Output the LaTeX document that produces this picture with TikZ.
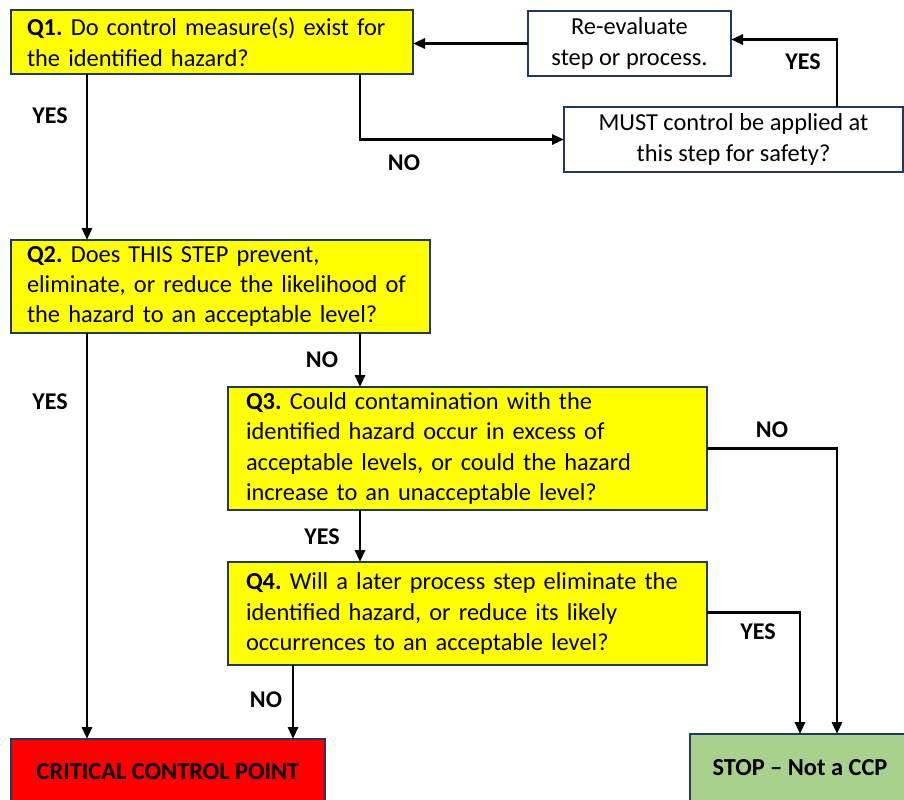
\documentclass[tikz,border=0pt]{standalone}
\usepackage{fontspec}
\setmainfont{Carlito}
\usetikzlibrary{arrows.meta}
\definecolor{questionfill}{RGB}{255,255,0}
\definecolor{edgecolor}{RGB}{32,56,100}
\definecolor{ccpfill}{RGB}{255,0,0}
\definecolor{stopfill}{RGB}{169,209,142}
\frenchspacing

\begin{document}
\begin{tikzpicture}[
	x=0.75pt, y=-0.75pt,
	every node/.style={outer sep=0pt, font=\fontsize{18.3}{22.8}\selectfont},
	box/.style={draw=edgecolor, line width=1.6pt, inner xsep=12pt, inner ysep=0pt, anchor=north west},
	question/.style={box, fill=questionfill, align=left},
	plain/.style={box, fill=white, align=center},
	answer/.style={font=\fontsize{18}{20}\selectfont\bfseries},
	flow/.style={-{Triangle[length=9pt,width=7.5pt]}, line width=2.2pt},
]
\useasboundingbox (0,0) rectangle (904,800);
% Questions down the left side.
\node[question, minimum width=301.5pt, minimum height=48pt, text width=277.5pt]
	at (11,10) (q1) {\textbf{Q1.} Do control measure(s) exist for\\the identified hazard?};
\node[question, minimum width=314.25pt, minimum height=69.75pt, text width=290.25pt]
	at (11,240) (q2) {\textbf{Q2.} Does THIS STEP prevent,\\eliminate, or reduce the likelihood of\\the hazard to an acceptable level?};
\node[question, minimum width=359.25pt, minimum height=92.25pt, text width=332.25pt, inner xsep=13.5pt]
	at (228,387) (q3) {\textbf{Q3.} Could contamination with the\\identified hazard occur in excess of\\acceptable levels, or could the hazard\\increase to an unacceptable level?};
\node[question, minimum width=359.25pt, minimum height=77.25pt, text width=332.25pt, inner xsep=13.5pt]
	at (228,562) (q4) {\textbf{Q4.} Will a later process step eliminate the\\identified hazard, or reduce its likely\\occurrences to an acceptable level?};
% Side boxes for Q1.
\node[plain, minimum width=152.25pt, minimum height=48.75pt]
	at (528,11) (reeval) {Re-evaluate\\step or process.};
\node[plain, minimum width=254.25pt, minimum height=48.75pt]
	at (564,107) (must) {MUST control be applied at\\this step for safety?};
% Outcomes.
\node[box, fill=ccpfill, minimum width=235.5pt, minimum height=49.5pt, font=\fontsize{18.3}{22.8}\selectfont\bfseries]
	at (11,739) (ccp) {CRITICAL CONTROL POINT};
\node[box, fill=stopfill, minimum width=165pt, minimum height=51pt, font=\fontsize{18.3}{22.8}\selectfont\bfseries]
	at (690,734) (stop) {STOP -- Not a CCP};

\coordinate (leftx) at (87,0);
\coordinate (midx) at (360,0);
\coordinate (rightx) at (837,0);
\coordinate (q4x) at (293,0);

\draw[flow] (q1.south -| leftx) -- (q2.north -| leftx);
\draw[flow] (q1.south -| midx) |- (must.west);
\draw[flow] (must.north -| rightx) |- ([yshift=3pt]reeval.east);
\draw[flow] (reeval.west) -- (reeval.west -| q1.east);
\draw[flow] (q2.south -| leftx) -- (ccp.north -| leftx);
\draw[flow] (q2.south -| midx) -- (q3.north -| midx);
\draw[flow] (q3.south -| midx) -- (q4.north -| midx);
\draw[flow] (q3.east) -| (stop.north -| rightx);
\draw[flow] ([yshift=1pt]q4.east) -| (stop.north);
\draw[flow] (q4.south -| q4x) -- (ccp.north -| q4x);

% Answers.
\node[answer] at (50,116) (a1) {YES};
\node[answer] at (404,163) (a2) {NO};
\node[answer] at (803,62) (a3) {YES};
\node[answer] at (50,402) (a4) {YES};
\node[answer] at (322,360) (a5) {NO};
\node[answer] at (772,430) (a6) {NO};
\node[answer] at (322,537) (a7) {YES};
\node[answer] at (758,632) (a8) {YES};
\node[answer] at (266,700) (a9) {NO};
\end{tikzpicture}
\end{document}
